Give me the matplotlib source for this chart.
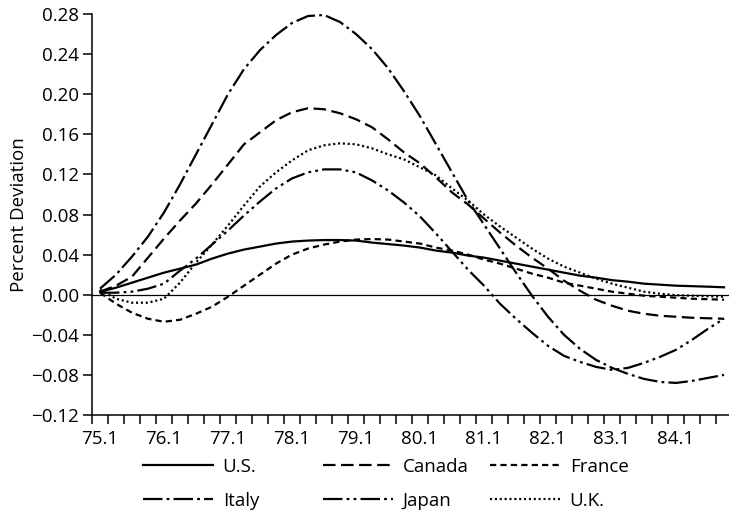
import numpy as np
import matplotlib
matplotlib.use("Agg")
import matplotlib.pyplot as plt

plt.rcParams['font.family'] = ['Open Sans', 'DejaVu Sans']
plt.rcParams['lines.scale_dashes'] = False

# quarterly data, 75.1 .. 84.4
year_labels = ["75.1", "76.1", "77.1", "78.1", "79.1", "80.1", "81.1", "82.1", "83.1", "84.1"]

us = [0.003, 0.007, 0.012, 0.017, 0.022, 0.026, 0.030, 0.036, 0.041, 0.045,
      0.048, 0.051, 0.053, 0.054, 0.0545, 0.0545, 0.054, 0.052, 0.0505, 0.049,
      0.047, 0.044, 0.042, 0.039, 0.037, 0.034, 0.031, 0.028, 0.025, 0.022,
      0.019, 0.017, 0.0145, 0.013, 0.011, 0.010, 0.009, 0.0085, 0.008, 0.0074]

canada = [0.003, 0.009, 0.018, 0.037, 0.056, 0.074, 0.091, 0.110, 0.130, 0.150,
          0.162, 0.174, 0.182, 0.186, 0.185, 0.181, 0.175, 0.167, 0.155, 0.142,
          0.131, 0.117, 0.102, 0.090, 0.076, 0.062, 0.049, 0.037, 0.026, 0.014,
          0.004, -0.005, -0.011, -0.016, -0.019, -0.021, -0.022, -0.023, -0.0235, -0.024]

france = [0.002, -0.009, -0.018, -0.024, -0.027, -0.025, -0.019, -0.012, -0.002, 0.009,
          0.020, 0.031, 0.040, 0.046, 0.050, 0.053, 0.055, 0.0555, 0.055, 0.053,
          0.051, 0.047, 0.044, 0.040, 0.035, 0.031, 0.026, 0.021, 0.017, 0.012,
          0.009, 0.006, 0.003, 0.001, -0.001, -0.002, -0.003, -0.004, -0.0045, -0.005]

italy = [0.006, 0.020, 0.038, 0.058, 0.082, 0.110, 0.140, 0.170, 0.200, 0.225,
         0.244, 0.259, 0.271, 0.278, 0.279, 0.272, 0.260, 0.245, 0.226, 0.203,
         0.178, 0.150, 0.122, 0.094, 0.070, 0.046, 0.022, -0.001, -0.022, -0.040,
         -0.054, -0.065, -0.073, -0.079, -0.084, -0.087, -0.088, -0.086, -0.083, -0.080]

japan = [0.002, 0.002, 0.003, 0.006, 0.011, 0.024, 0.036, 0.050, 0.064, 0.079,
         0.093, 0.106, 0.116, 0.122, 0.125, 0.125, 0.122, 0.114, 0.104, 0.092,
         0.078, 0.061, 0.043, 0.025, 0.009, -0.009, -0.024, -0.038, -0.051, -0.061,
         -0.067, -0.072, -0.075, -0.073, -0.068, -0.062, -0.055, -0.045, -0.034, -0.024]

uk = [0.005, -0.004, -0.008, -0.008, -0.004, 0.012, 0.032, 0.050, 0.069, 0.089,
      0.108, 0.122, 0.134, 0.144, 0.149, 0.151, 0.150, 0.146, 0.140, 0.135,
      0.127, 0.119, 0.106, 0.094, 0.080, 0.068, 0.057, 0.046, 0.036, 0.028,
      0.022, 0.016, 0.011, 0.007, 0.003, 0.001, -0.0005, -0.001, -0.0015, -0.002]

x = np.arange(len(us))

fig = plt.figure(figsize=(7.29, 5.22), dpi=100)
ax = fig.add_axes([92/729, 107/522, 640/729, 401/522])

lw = 1.6
l_us, = ax.plot(x, us, color='black', lw=lw, label='U.S.')
l_ca, = ax.plot(x, canada, color='black', lw=lw, ls=(0, (9, 4)), label='Canada')
l_fr, = ax.plot(x, france, color='black', lw=lw, ls=(0, (4.5, 3)), label='France')
l_it, = ax.plot(x, italy, color='black', lw=lw, ls=(0, (14, 3, 2, 3)), label='Italy')
l_jp, = ax.plot(x, japan, color='black', lw=lw, ls=(0, (14, 3, 2, 3, 2, 3)), label='Japan')
l_uk, = ax.plot(x, uk, color='black', lw=lw, ls=(0, (1.5, 2)), label='U.K.')

ax.axhline(0, color='black', lw=0.9)

ax.set_xlim(-0.5, 39.5)
ax.set_ylim(-0.12, 0.28)
ax.set_yticks(np.arange(-0.12, 0.2801, 0.04))
ax.yaxis.set_major_formatter(matplotlib.ticker.FuncFormatter(lambda v, p: f"{v:.2f}".replace('-', '\u2212')))

ax.set_xticks(np.arange(0, 40, 4))
ax.set_xticklabels(year_labels)
ax.set_xticks(np.arange(-0.5, 40, 1), minor=True)
ax.tick_params(axis='x', which='major', length=0, pad=11, labelsize=13.5)
ax.tick_params(axis='x', which='minor', length=6.5, width=1.1, direction='out')
ax.tick_params(axis='y', length=6.5, width=1.1, direction='out', labelsize=13.5, pad=3)

for s in ['top', 'right']:
    ax.spines[s].set_visible(False)
for s in ['left', 'bottom']:
    ax.spines[s].set_linewidth(1.1)

ax.set_ylabel('Percent Deviation', fontsize=13.5, labelpad=2)

# legend laid out as three fixed columns
columns = [(143, [l_us, l_it]), (323, [l_ca, l_jp]), (490, [l_fr, l_uk])]
for xpos, hs in columns:
    fig.legend(handles=hs, labels=[h.get_label() for h in hs],
               loc='center left', bbox_to_anchor=(xpos/729, 1 - 484/522),
               frameon=False, fontsize=13.5, handlelength=3.75, handletextpad=0.5,
               labelspacing=0.85, borderpad=0, borderaxespad=0)

fig.savefig('out.png', dpi=100)
